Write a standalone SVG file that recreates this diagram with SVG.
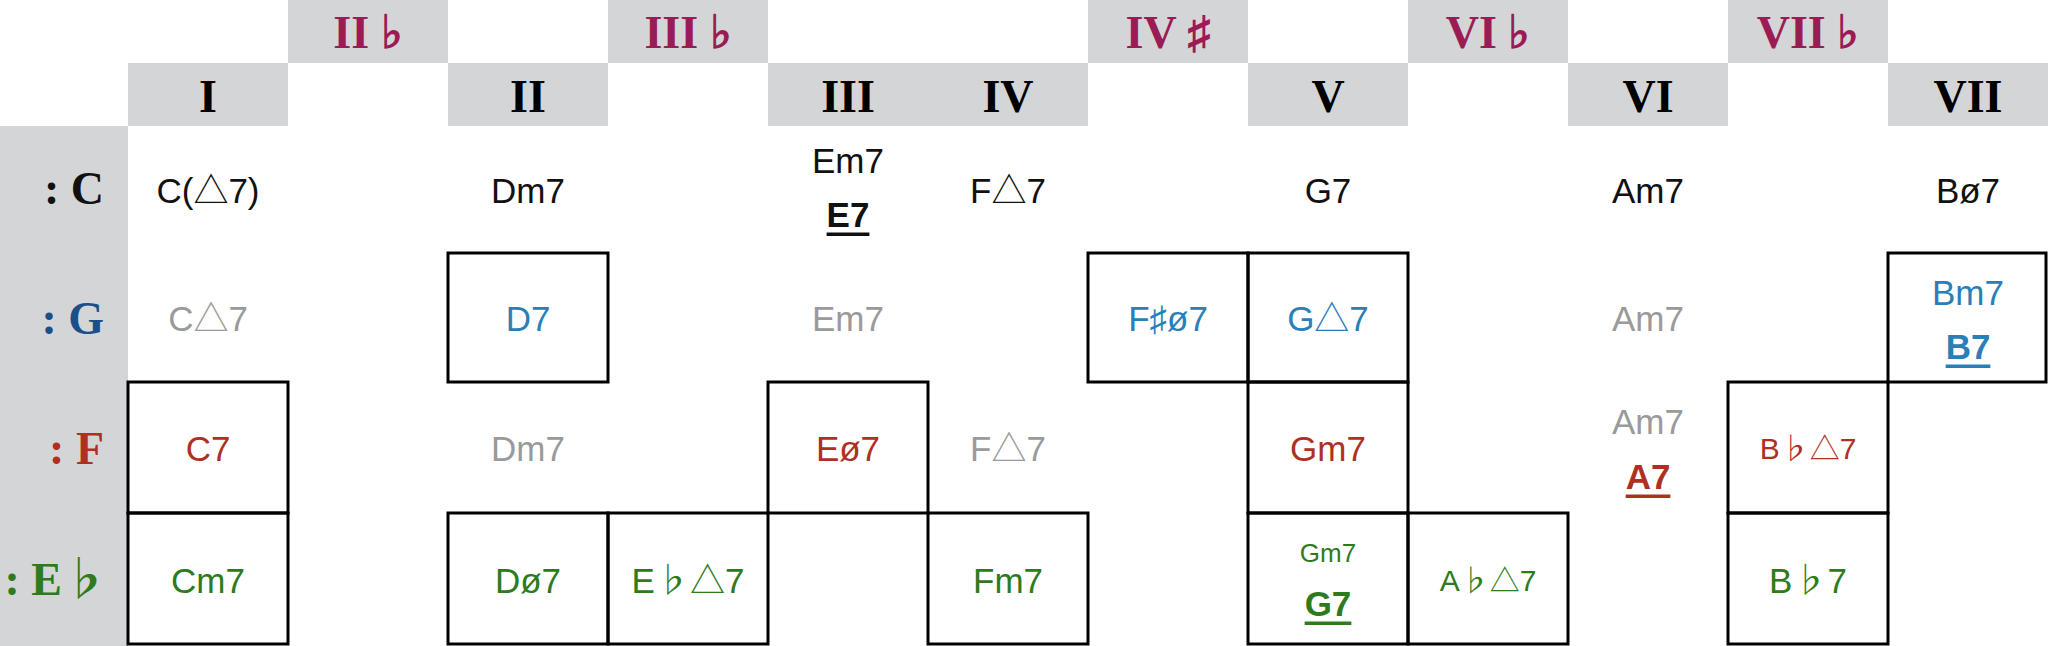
<svg xmlns="http://www.w3.org/2000/svg" width="2048" height="646" viewBox="0 0 2048 646">
<style>
.g{fill:#d4d5d7}
.h{font-family:"Liberation Serif",serif;font-weight:bold;font-size:46px;text-anchor:middle;dominant-baseline:central}
.hm{fill:#9b1b55}
.k{font-family:"Liberation Serif","Noto Sans CJK JP",serif;font-weight:bold;font-size:46px;text-anchor:end;dominant-baseline:central}
.t{font-family:"Liberation Sans","Noto Sans CJK JP",sans-serif;font-size:35px;text-anchor:middle;dominant-baseline:central}
.b{font-weight:bold;text-decoration:underline}
.box{fill:none;stroke:#000;stroke-width:3}
.bk{fill:#111}.gr{fill:#9a9a9a}.bl{fill:#2a7fb8}.rd{fill:#b0301f}.gn{fill:#2e7a1e}
</style>
<rect width="2048" height="646" fill="#fff"/>
<g id="headers">
<rect class="g" x="288" y="0" width="160" height="63"/><rect class="g" x="608" y="0" width="160" height="63"/>
<rect class="g" x="1088" y="0" width="160" height="63"/><rect class="g" x="1408" y="0" width="160" height="63"/>
<rect class="g" x="1728" y="0" width="160" height="63"/>
<rect class="g" x="128" y="63" width="160" height="63"/><rect class="g" x="448" y="63" width="160" height="63"/>
<rect class="g" x="768" y="63" width="320" height="63"/><rect class="g" x="1248" y="63" width="160" height="63"/>
<rect class="g" x="1568" y="63" width="160" height="63"/><rect class="g" x="1888" y="63" width="160" height="63"/>
<rect class="g" x="0" y="126" width="128" height="520"/>
<text class="h hm" x="368" y="32">II ♭</text><text class="h hm" x="688" y="32">III ♭</text>
<text class="h hm" x="1168" y="32">IV ♯</text><text class="h hm" x="1488" y="32">VI ♭</text><text class="h hm" x="1808" y="32">VII ♭</text>
<text class="h" x="208" y="96">I</text><text class="h" x="528" y="96">II</text><text class="h" x="848" y="96">III</text>
<text class="h" x="1008" y="96">IV</text><text class="h" x="1328" y="96">V</text><text class="h" x="1648" y="96">VI</text><text class="h" x="1968" y="96">VII</text>
<text class="k" x="104" y="188" fill="#111">: C</text>
<text class="k" x="104" y="318" fill="#1a4f8a">: G</text>
<text class="k" x="104" y="448" fill="#b0301f">: F</text>
<text class="k" x="108" y="579" fill="#2e7a1e">: E♭</text>
</g>
<g id="connectors"></g>
<g id="rowC">
<text class="t bk" x="208" y="190">C(△7)</text><text class="t bk" x="528" y="190">Dm7</text>
<text class="t bk" x="848" y="160">Em7</text><text class="t bk b" x="848" y="214">E7</text>
<text class="t bk" x="1008" y="190">F△7</text><text class="t bk" x="1328" y="190">G7</text>
<text class="t bk" x="1648" y="190">Am7</text><text class="t bk" x="1968" y="190">Bø7</text>
</g>
<g id="rowG">
<rect class="box" x="448" y="253" width="160" height="129"/>
<rect class="box" x="1088" y="253" width="160" height="129"/>
<rect class="box" x="1248" y="253" width="160" height="129"/>
<rect class="box" x="1888" y="253" width="158" height="129"/>
<text class="t gr" x="208" y="318">C△7</text><text class="t bl" x="528" y="318">D7</text>
<text class="t gr" x="848" y="318">Em7</text><text class="t bl" x="1168" y="318">F♯ø7</text>
<text class="t bl" x="1328" y="318">G△7</text><text class="t gr" x="1648" y="318">Am7</text>
<text class="t bl" x="1968" y="292">Bm7</text><text class="t bl b" x="1968" y="346">B7</text>
</g>
<g id="rowF">
<rect class="box" x="128" y="382" width="160" height="131"/>
<rect class="box" x="768" y="382" width="160" height="131"/>
<rect class="box" x="1248" y="382" width="160" height="131"/>
<rect class="box" x="1728" y="382" width="160" height="131"/>
<text class="t rd" x="208" y="448">C7</text><text class="t gr" x="528" y="448">Dm7</text>
<text class="t rd" x="848" y="448">Eø7</text><text class="t gr" x="1008" y="448">F△7</text>
<text class="t rd" x="1328" y="448">Gm7</text>
<text class="t gr" x="1648" y="421">Am7</text><text class="t rd b" x="1648" y="476">A7</text>
<text class="t rd" x="1808" y="448" style="font-size:30px">B♭△7</text>
</g>
<g id="rowEb">
<rect class="box" x="128" y="513" width="160" height="131"/>
<rect class="box" x="448" y="513" width="160" height="131"/>
<rect class="box" x="608" y="513" width="160" height="131"/>
<rect class="box" x="928" y="513" width="160" height="131"/>
<rect class="box" x="1248" y="513" width="160" height="131"/>
<rect class="box" x="1408" y="513" width="160" height="131"/>
<rect class="box" x="1728" y="513" width="160" height="131"/>
<text class="t gn" x="208" y="580">Cm7</text><text class="t gn" x="528" y="580">Dø7</text>
<text class="t gn" x="688" y="580">E♭△7</text><text class="t gn" x="1008" y="580">Fm7</text>
<text class="t gn" x="1328" y="553" style="font-size:26px">Gm7</text><text class="t gn b" x="1328" y="603">G7</text>
<text class="t gn" x="1488" y="580" style="font-size:30px">A♭△7</text><text class="t gn" x="1808" y="580">B♭7</text>
</g>
</svg>
